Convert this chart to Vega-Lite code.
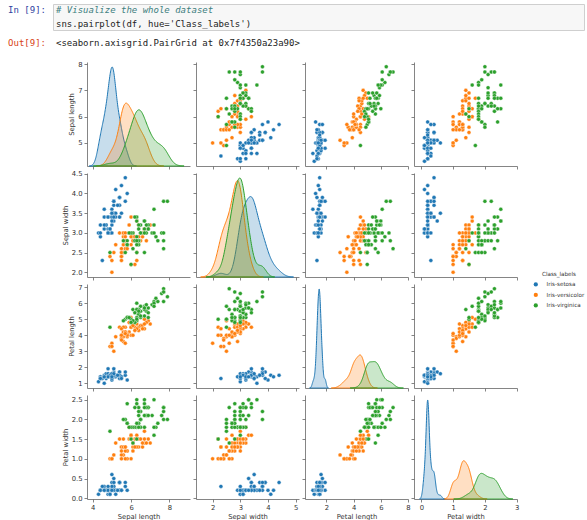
{
  "$schema": "https://vega.github.io/schema/vega-lite/v6.json",
  "padding": {"left": 7, "top": 3, "right": 0, "bottom": 0},
  "bounds": "flush",
  "spacing": 4,
  "config": {
    "view": {"stroke": null},
    "font": "DejaVu Sans",
    "range": {"category": ["#1f77b4", "#ff7f0e", "#2ca02c"]},
    "axis": {
      "grid": false, "domainColor": "#666666", "domainWidth": 0.8, "tickColor": "#666666", "tickWidth": 0.8, "tickSize": 3,
      "labelFont": "DejaVu Sans", "labelFontSize": 6.8, "labelColor": "#333333", "labelPadding": 2, "labelFlush": false, "labelOverlap": false,
      "titleFont": "DejaVu Sans", "titleFontSize": 6.8, "titleFontWeight": "normal", "titleColor": "#333333", "titlePadding": 3
    },
    "axisX": {"titleColor": "#333333", "labelColor": "#333333"},
    "axisY": {"titleColor": "#333333", "labelColor": "#333333"},
    "legend": {
      "orient": "none", "legendX": 480, "legendY": 268, "padding": 0,
      "titleFont": "DejaVu Sans", "titleFontSize": 5.6, "titleFontWeight": "normal", "titleColor": "#333333", "titleAnchor": "middle", "titlePadding": 4,
      "labelFont": "DejaVu Sans", "labelFontSize": 5.6, "labelColor": "#333333", "labelOffset": 8, "rowPadding": 3.5,
      "symbolType": "circle", "symbolSize": 18, "symbolStrokeWidth": 0, "symbolOpacity": 1
    }
  },
  "datasets": {
    "iris": [
      {"sepal_length":5.1,"sepal_width":3.5,"petal_length":1.4,"petal_width":0.2,"Class_labels":"Iris-setosa"},
      {"sepal_length":4.9,"sepal_width":3.0,"petal_length":1.4,"petal_width":0.2,"Class_labels":"Iris-setosa"},
      {"sepal_length":4.7,"sepal_width":3.2,"petal_length":1.3,"petal_width":0.2,"Class_labels":"Iris-setosa"},
      {"sepal_length":4.6,"sepal_width":3.1,"petal_length":1.5,"petal_width":0.2,"Class_labels":"Iris-setosa"},
      {"sepal_length":5.0,"sepal_width":3.6,"petal_length":1.4,"petal_width":0.2,"Class_labels":"Iris-setosa"},
      {"sepal_length":5.4,"sepal_width":3.9,"petal_length":1.7,"petal_width":0.4,"Class_labels":"Iris-setosa"},
      {"sepal_length":4.6,"sepal_width":3.4,"petal_length":1.4,"petal_width":0.3,"Class_labels":"Iris-setosa"},
      {"sepal_length":5.0,"sepal_width":3.4,"petal_length":1.5,"petal_width":0.2,"Class_labels":"Iris-setosa"},
      {"sepal_length":4.4,"sepal_width":2.9,"petal_length":1.4,"petal_width":0.2,"Class_labels":"Iris-setosa"},
      {"sepal_length":4.9,"sepal_width":3.1,"petal_length":1.5,"petal_width":0.1,"Class_labels":"Iris-setosa"},
      {"sepal_length":5.4,"sepal_width":3.7,"petal_length":1.5,"petal_width":0.2,"Class_labels":"Iris-setosa"},
      {"sepal_length":4.8,"sepal_width":3.4,"petal_length":1.6,"petal_width":0.2,"Class_labels":"Iris-setosa"},
      {"sepal_length":4.8,"sepal_width":3.0,"petal_length":1.4,"petal_width":0.1,"Class_labels":"Iris-setosa"},
      {"sepal_length":4.3,"sepal_width":3.0,"petal_length":1.1,"petal_width":0.1,"Class_labels":"Iris-setosa"},
      {"sepal_length":5.8,"sepal_width":4.0,"petal_length":1.2,"petal_width":0.2,"Class_labels":"Iris-setosa"},
      {"sepal_length":5.7,"sepal_width":4.4,"petal_length":1.5,"petal_width":0.4,"Class_labels":"Iris-setosa"},
      {"sepal_length":5.4,"sepal_width":3.9,"petal_length":1.3,"petal_width":0.4,"Class_labels":"Iris-setosa"},
      {"sepal_length":5.1,"sepal_width":3.5,"petal_length":1.4,"petal_width":0.3,"Class_labels":"Iris-setosa"},
      {"sepal_length":5.7,"sepal_width":3.8,"petal_length":1.7,"petal_width":0.3,"Class_labels":"Iris-setosa"},
      {"sepal_length":5.1,"sepal_width":3.8,"petal_length":1.5,"petal_width":0.3,"Class_labels":"Iris-setosa"},
      {"sepal_length":5.4,"sepal_width":3.4,"petal_length":1.7,"petal_width":0.2,"Class_labels":"Iris-setosa"},
      {"sepal_length":5.1,"sepal_width":3.7,"petal_length":1.5,"petal_width":0.4,"Class_labels":"Iris-setosa"},
      {"sepal_length":4.6,"sepal_width":3.6,"petal_length":1.0,"petal_width":0.2,"Class_labels":"Iris-setosa"},
      {"sepal_length":5.1,"sepal_width":3.3,"petal_length":1.7,"petal_width":0.5,"Class_labels":"Iris-setosa"},
      {"sepal_length":4.8,"sepal_width":3.4,"petal_length":1.9,"petal_width":0.2,"Class_labels":"Iris-setosa"},
      {"sepal_length":5.0,"sepal_width":3.0,"petal_length":1.6,"petal_width":0.2,"Class_labels":"Iris-setosa"},
      {"sepal_length":5.0,"sepal_width":3.4,"petal_length":1.6,"petal_width":0.4,"Class_labels":"Iris-setosa"},
      {"sepal_length":5.2,"sepal_width":3.5,"petal_length":1.5,"petal_width":0.2,"Class_labels":"Iris-setosa"},
      {"sepal_length":5.2,"sepal_width":3.4,"petal_length":1.4,"petal_width":0.2,"Class_labels":"Iris-setosa"},
      {"sepal_length":4.7,"sepal_width":3.2,"petal_length":1.6,"petal_width":0.2,"Class_labels":"Iris-setosa"},
      {"sepal_length":4.8,"sepal_width":3.1,"petal_length":1.6,"petal_width":0.2,"Class_labels":"Iris-setosa"},
      {"sepal_length":5.4,"sepal_width":3.4,"petal_length":1.5,"petal_width":0.4,"Class_labels":"Iris-setosa"},
      {"sepal_length":5.2,"sepal_width":4.1,"petal_length":1.5,"petal_width":0.1,"Class_labels":"Iris-setosa"},
      {"sepal_length":5.5,"sepal_width":4.2,"petal_length":1.4,"petal_width":0.2,"Class_labels":"Iris-setosa"},
      {"sepal_length":4.9,"sepal_width":3.1,"petal_length":1.5,"petal_width":0.1,"Class_labels":"Iris-setosa"},
      {"sepal_length":5.0,"sepal_width":3.2,"petal_length":1.2,"petal_width":0.2,"Class_labels":"Iris-setosa"},
      {"sepal_length":5.5,"sepal_width":3.5,"petal_length":1.3,"petal_width":0.2,"Class_labels":"Iris-setosa"},
      {"sepal_length":4.9,"sepal_width":3.1,"petal_length":1.5,"petal_width":0.1,"Class_labels":"Iris-setosa"},
      {"sepal_length":4.4,"sepal_width":3.0,"petal_length":1.3,"petal_width":0.2,"Class_labels":"Iris-setosa"},
      {"sepal_length":5.1,"sepal_width":3.4,"petal_length":1.5,"petal_width":0.2,"Class_labels":"Iris-setosa"},
      {"sepal_length":5.0,"sepal_width":3.5,"petal_length":1.3,"petal_width":0.3,"Class_labels":"Iris-setosa"},
      {"sepal_length":4.5,"sepal_width":2.3,"petal_length":1.3,"petal_width":0.3,"Class_labels":"Iris-setosa"},
      {"sepal_length":4.4,"sepal_width":3.2,"petal_length":1.3,"petal_width":0.2,"Class_labels":"Iris-setosa"},
      {"sepal_length":5.0,"sepal_width":3.5,"petal_length":1.6,"petal_width":0.6,"Class_labels":"Iris-setosa"},
      {"sepal_length":5.1,"sepal_width":3.8,"petal_length":1.9,"petal_width":0.4,"Class_labels":"Iris-setosa"},
      {"sepal_length":4.8,"sepal_width":3.0,"petal_length":1.4,"petal_width":0.3,"Class_labels":"Iris-setosa"},
      {"sepal_length":5.1,"sepal_width":3.8,"petal_length":1.6,"petal_width":0.2,"Class_labels":"Iris-setosa"},
      {"sepal_length":4.6,"sepal_width":3.2,"petal_length":1.4,"petal_width":0.2,"Class_labels":"Iris-setosa"},
      {"sepal_length":5.3,"sepal_width":3.7,"petal_length":1.5,"petal_width":0.2,"Class_labels":"Iris-setosa"},
      {"sepal_length":5.0,"sepal_width":3.3,"petal_length":1.4,"petal_width":0.2,"Class_labels":"Iris-setosa"},
      {"sepal_length":7.0,"sepal_width":3.2,"petal_length":4.7,"petal_width":1.4,"Class_labels":"Iris-versicolor"},
      {"sepal_length":6.4,"sepal_width":3.2,"petal_length":4.5,"petal_width":1.5,"Class_labels":"Iris-versicolor"},
      {"sepal_length":6.9,"sepal_width":3.1,"petal_length":4.9,"petal_width":1.5,"Class_labels":"Iris-versicolor"},
      {"sepal_length":5.5,"sepal_width":2.3,"petal_length":4.0,"petal_width":1.3,"Class_labels":"Iris-versicolor"},
      {"sepal_length":6.5,"sepal_width":2.8,"petal_length":4.6,"petal_width":1.5,"Class_labels":"Iris-versicolor"},
      {"sepal_length":5.7,"sepal_width":2.8,"petal_length":4.5,"petal_width":1.3,"Class_labels":"Iris-versicolor"},
      {"sepal_length":6.3,"sepal_width":3.3,"petal_length":4.7,"petal_width":1.6,"Class_labels":"Iris-versicolor"},
      {"sepal_length":4.9,"sepal_width":2.4,"petal_length":3.3,"petal_width":1.0,"Class_labels":"Iris-versicolor"},
      {"sepal_length":6.6,"sepal_width":2.9,"petal_length":4.6,"petal_width":1.3,"Class_labels":"Iris-versicolor"},
      {"sepal_length":5.2,"sepal_width":2.7,"petal_length":3.9,"petal_width":1.4,"Class_labels":"Iris-versicolor"},
      {"sepal_length":5.0,"sepal_width":2.0,"petal_length":3.5,"petal_width":1.0,"Class_labels":"Iris-versicolor"},
      {"sepal_length":5.9,"sepal_width":3.0,"petal_length":4.2,"petal_width":1.5,"Class_labels":"Iris-versicolor"},
      {"sepal_length":6.0,"sepal_width":2.2,"petal_length":4.0,"petal_width":1.0,"Class_labels":"Iris-versicolor"},
      {"sepal_length":6.1,"sepal_width":2.9,"petal_length":4.7,"petal_width":1.4,"Class_labels":"Iris-versicolor"},
      {"sepal_length":5.6,"sepal_width":2.9,"petal_length":3.6,"petal_width":1.3,"Class_labels":"Iris-versicolor"},
      {"sepal_length":6.7,"sepal_width":3.1,"petal_length":4.4,"petal_width":1.4,"Class_labels":"Iris-versicolor"},
      {"sepal_length":5.6,"sepal_width":3.0,"petal_length":4.5,"petal_width":1.5,"Class_labels":"Iris-versicolor"},
      {"sepal_length":5.8,"sepal_width":2.7,"petal_length":4.1,"petal_width":1.0,"Class_labels":"Iris-versicolor"},
      {"sepal_length":6.2,"sepal_width":2.2,"petal_length":4.5,"petal_width":1.5,"Class_labels":"Iris-versicolor"},
      {"sepal_length":5.6,"sepal_width":2.5,"petal_length":3.9,"petal_width":1.1,"Class_labels":"Iris-versicolor"},
      {"sepal_length":5.9,"sepal_width":3.2,"petal_length":4.8,"petal_width":1.8,"Class_labels":"Iris-versicolor"},
      {"sepal_length":6.1,"sepal_width":2.8,"petal_length":4.0,"petal_width":1.3,"Class_labels":"Iris-versicolor"},
      {"sepal_length":6.3,"sepal_width":2.5,"petal_length":4.9,"petal_width":1.5,"Class_labels":"Iris-versicolor"},
      {"sepal_length":6.1,"sepal_width":2.8,"petal_length":4.7,"petal_width":1.2,"Class_labels":"Iris-versicolor"},
      {"sepal_length":6.4,"sepal_width":2.9,"petal_length":4.3,"petal_width":1.3,"Class_labels":"Iris-versicolor"},
      {"sepal_length":6.6,"sepal_width":3.0,"petal_length":4.4,"petal_width":1.4,"Class_labels":"Iris-versicolor"},
      {"sepal_length":6.8,"sepal_width":2.8,"petal_length":4.8,"petal_width":1.4,"Class_labels":"Iris-versicolor"},
      {"sepal_length":6.7,"sepal_width":3.0,"petal_length":5.0,"petal_width":1.7,"Class_labels":"Iris-versicolor"},
      {"sepal_length":6.0,"sepal_width":2.9,"petal_length":4.5,"petal_width":1.5,"Class_labels":"Iris-versicolor"},
      {"sepal_length":5.7,"sepal_width":2.6,"petal_length":3.5,"petal_width":1.0,"Class_labels":"Iris-versicolor"},
      {"sepal_length":5.5,"sepal_width":2.4,"petal_length":3.8,"petal_width":1.1,"Class_labels":"Iris-versicolor"},
      {"sepal_length":5.5,"sepal_width":2.4,"petal_length":3.7,"petal_width":1.0,"Class_labels":"Iris-versicolor"},
      {"sepal_length":5.8,"sepal_width":2.7,"petal_length":3.9,"petal_width":1.2,"Class_labels":"Iris-versicolor"},
      {"sepal_length":6.0,"sepal_width":2.7,"petal_length":5.1,"petal_width":1.6,"Class_labels":"Iris-versicolor"},
      {"sepal_length":5.4,"sepal_width":3.0,"petal_length":4.5,"petal_width":1.5,"Class_labels":"Iris-versicolor"},
      {"sepal_length":6.0,"sepal_width":3.4,"petal_length":4.5,"petal_width":1.6,"Class_labels":"Iris-versicolor"},
      {"sepal_length":6.7,"sepal_width":3.1,"petal_length":4.7,"petal_width":1.5,"Class_labels":"Iris-versicolor"},
      {"sepal_length":6.3,"sepal_width":2.3,"petal_length":4.4,"petal_width":1.3,"Class_labels":"Iris-versicolor"},
      {"sepal_length":5.6,"sepal_width":3.0,"petal_length":4.1,"petal_width":1.3,"Class_labels":"Iris-versicolor"},
      {"sepal_length":5.5,"sepal_width":2.5,"petal_length":4.0,"petal_width":1.3,"Class_labels":"Iris-versicolor"},
      {"sepal_length":5.5,"sepal_width":2.6,"petal_length":4.4,"petal_width":1.2,"Class_labels":"Iris-versicolor"},
      {"sepal_length":6.1,"sepal_width":3.0,"petal_length":4.6,"petal_width":1.4,"Class_labels":"Iris-versicolor"},
      {"sepal_length":5.8,"sepal_width":2.6,"petal_length":4.0,"petal_width":1.2,"Class_labels":"Iris-versicolor"},
      {"sepal_length":5.0,"sepal_width":2.3,"petal_length":3.3,"petal_width":1.0,"Class_labels":"Iris-versicolor"},
      {"sepal_length":5.6,"sepal_width":2.7,"petal_length":4.2,"petal_width":1.3,"Class_labels":"Iris-versicolor"},
      {"sepal_length":5.7,"sepal_width":3.0,"petal_length":4.2,"petal_width":1.2,"Class_labels":"Iris-versicolor"},
      {"sepal_length":5.7,"sepal_width":2.9,"petal_length":4.2,"petal_width":1.3,"Class_labels":"Iris-versicolor"},
      {"sepal_length":6.2,"sepal_width":2.9,"petal_length":4.3,"petal_width":1.3,"Class_labels":"Iris-versicolor"},
      {"sepal_length":5.1,"sepal_width":2.5,"petal_length":3.0,"petal_width":1.1,"Class_labels":"Iris-versicolor"},
      {"sepal_length":5.7,"sepal_width":2.8,"petal_length":4.1,"petal_width":1.3,"Class_labels":"Iris-versicolor"},
      {"sepal_length":6.3,"sepal_width":3.3,"petal_length":6.0,"petal_width":2.5,"Class_labels":"Iris-virginica"},
      {"sepal_length":5.8,"sepal_width":2.7,"petal_length":5.1,"petal_width":1.9,"Class_labels":"Iris-virginica"},
      {"sepal_length":7.1,"sepal_width":3.0,"petal_length":5.9,"petal_width":2.1,"Class_labels":"Iris-virginica"},
      {"sepal_length":6.3,"sepal_width":2.9,"petal_length":5.6,"petal_width":1.8,"Class_labels":"Iris-virginica"},
      {"sepal_length":6.5,"sepal_width":3.0,"petal_length":5.8,"petal_width":2.2,"Class_labels":"Iris-virginica"},
      {"sepal_length":7.6,"sepal_width":3.0,"petal_length":6.6,"petal_width":2.1,"Class_labels":"Iris-virginica"},
      {"sepal_length":4.9,"sepal_width":2.5,"petal_length":4.5,"petal_width":1.7,"Class_labels":"Iris-virginica"},
      {"sepal_length":7.3,"sepal_width":2.9,"petal_length":6.3,"petal_width":1.8,"Class_labels":"Iris-virginica"},
      {"sepal_length":6.7,"sepal_width":2.5,"petal_length":5.8,"petal_width":1.8,"Class_labels":"Iris-virginica"},
      {"sepal_length":7.2,"sepal_width":3.6,"petal_length":6.1,"petal_width":2.5,"Class_labels":"Iris-virginica"},
      {"sepal_length":6.5,"sepal_width":3.2,"petal_length":5.1,"petal_width":2.0,"Class_labels":"Iris-virginica"},
      {"sepal_length":6.4,"sepal_width":2.7,"petal_length":5.3,"petal_width":1.9,"Class_labels":"Iris-virginica"},
      {"sepal_length":6.8,"sepal_width":3.0,"petal_length":5.5,"petal_width":2.1,"Class_labels":"Iris-virginica"},
      {"sepal_length":5.7,"sepal_width":2.5,"petal_length":5.0,"petal_width":2.0,"Class_labels":"Iris-virginica"},
      {"sepal_length":5.8,"sepal_width":2.8,"petal_length":5.1,"petal_width":2.4,"Class_labels":"Iris-virginica"},
      {"sepal_length":6.4,"sepal_width":3.2,"petal_length":5.3,"petal_width":2.3,"Class_labels":"Iris-virginica"},
      {"sepal_length":6.5,"sepal_width":3.0,"petal_length":5.5,"petal_width":1.8,"Class_labels":"Iris-virginica"},
      {"sepal_length":7.7,"sepal_width":3.8,"petal_length":6.7,"petal_width":2.2,"Class_labels":"Iris-virginica"},
      {"sepal_length":7.7,"sepal_width":2.6,"petal_length":6.9,"petal_width":2.3,"Class_labels":"Iris-virginica"},
      {"sepal_length":6.0,"sepal_width":2.2,"petal_length":5.0,"petal_width":1.5,"Class_labels":"Iris-virginica"},
      {"sepal_length":6.9,"sepal_width":3.2,"petal_length":5.7,"petal_width":2.3,"Class_labels":"Iris-virginica"},
      {"sepal_length":5.6,"sepal_width":2.8,"petal_length":4.9,"petal_width":2.0,"Class_labels":"Iris-virginica"},
      {"sepal_length":7.7,"sepal_width":2.8,"petal_length":6.7,"petal_width":2.0,"Class_labels":"Iris-virginica"},
      {"sepal_length":6.3,"sepal_width":2.7,"petal_length":4.9,"petal_width":1.8,"Class_labels":"Iris-virginica"},
      {"sepal_length":6.7,"sepal_width":3.3,"petal_length":5.7,"petal_width":2.1,"Class_labels":"Iris-virginica"},
      {"sepal_length":7.2,"sepal_width":3.2,"petal_length":6.0,"petal_width":1.8,"Class_labels":"Iris-virginica"},
      {"sepal_length":6.2,"sepal_width":2.8,"petal_length":4.8,"petal_width":1.8,"Class_labels":"Iris-virginica"},
      {"sepal_length":6.1,"sepal_width":3.0,"petal_length":4.9,"petal_width":1.8,"Class_labels":"Iris-virginica"},
      {"sepal_length":6.4,"sepal_width":2.8,"petal_length":5.6,"petal_width":2.1,"Class_labels":"Iris-virginica"},
      {"sepal_length":7.2,"sepal_width":3.0,"petal_length":5.8,"petal_width":1.6,"Class_labels":"Iris-virginica"},
      {"sepal_length":7.4,"sepal_width":2.8,"petal_length":6.1,"petal_width":1.9,"Class_labels":"Iris-virginica"},
      {"sepal_length":7.9,"sepal_width":3.8,"petal_length":6.4,"petal_width":2.0,"Class_labels":"Iris-virginica"},
      {"sepal_length":6.4,"sepal_width":2.8,"petal_length":5.6,"petal_width":2.2,"Class_labels":"Iris-virginica"},
      {"sepal_length":6.3,"sepal_width":2.8,"petal_length":5.1,"petal_width":1.5,"Class_labels":"Iris-virginica"},
      {"sepal_length":6.1,"sepal_width":2.6,"petal_length":5.6,"petal_width":1.4,"Class_labels":"Iris-virginica"},
      {"sepal_length":7.7,"sepal_width":3.0,"petal_length":6.1,"petal_width":2.3,"Class_labels":"Iris-virginica"},
      {"sepal_length":6.3,"sepal_width":3.4,"petal_length":5.6,"petal_width":2.4,"Class_labels":"Iris-virginica"},
      {"sepal_length":6.4,"sepal_width":3.1,"petal_length":5.5,"petal_width":1.8,"Class_labels":"Iris-virginica"},
      {"sepal_length":6.0,"sepal_width":3.0,"petal_length":4.8,"petal_width":1.8,"Class_labels":"Iris-virginica"},
      {"sepal_length":6.9,"sepal_width":3.1,"petal_length":5.4,"petal_width":2.1,"Class_labels":"Iris-virginica"},
      {"sepal_length":6.7,"sepal_width":3.1,"petal_length":5.6,"petal_width":2.4,"Class_labels":"Iris-virginica"},
      {"sepal_length":6.9,"sepal_width":3.1,"petal_length":5.1,"petal_width":2.3,"Class_labels":"Iris-virginica"},
      {"sepal_length":5.8,"sepal_width":2.7,"petal_length":5.1,"petal_width":1.9,"Class_labels":"Iris-virginica"},
      {"sepal_length":6.8,"sepal_width":3.2,"petal_length":5.9,"petal_width":2.3,"Class_labels":"Iris-virginica"},
      {"sepal_length":6.7,"sepal_width":3.3,"petal_length":5.7,"petal_width":2.5,"Class_labels":"Iris-virginica"},
      {"sepal_length":6.7,"sepal_width":3.0,"petal_length":5.2,"petal_width":2.3,"Class_labels":"Iris-virginica"},
      {"sepal_length":6.3,"sepal_width":2.5,"petal_length":5.0,"petal_width":1.9,"Class_labels":"Iris-virginica"},
      {"sepal_length":6.5,"sepal_width":3.0,"petal_length":5.2,"petal_width":2.0,"Class_labels":"Iris-virginica"},
      {"sepal_length":6.2,"sepal_width":3.4,"petal_length":5.4,"petal_width":2.3,"Class_labels":"Iris-virginica"},
      {"sepal_length":5.9,"sepal_width":3.0,"petal_length":5.1,"petal_width":1.8,"Class_labels":"Iris-virginica"}
    ]
  },
  "vconcat": [
    {
      "width": 531, "height": 26,
      "view": {"fill": "#f7f7f7", "stroke": "#cfcfcf", "strokeWidth": 1},
      "data": {"values": [
        {"line": 1, "role": "prompt", "text": "In [9]:"},
        {"line": 1, "role": "comment", "text": "# Visualize the whole dataset"},
        {"line": 2, "role": "code", "text": "sns.pairplot(df, hue='Class_labels')"}
      ]},
      "encoding": {
        "x": {"datum": 0, "type": "quantitative", "scale": {"domain": [0, 1]}, "axis": null},
        "y": {"field": "line", "type": "ordinal", "scale": {"type": "point", "padding": 0.47}, "axis": null},
        "text": {"field": "text"}
      },
      "layer": [
        {"transform": [{"filter": "datum.role === 'prompt'"}], "mark": {"type": "text", "align": "right", "dx": -7, "font": "DejaVu Sans Mono", "fontSize": 9, "color": "#303f9f"}},
        {"transform": [{"filter": "datum.role === 'comment'"}], "mark": {"type": "text", "align": "left", "dx": 3, "font": "DejaVu Sans Mono", "fontSize": 9, "fontStyle": "italic", "color": "#408080"}},
        {"transform": [{"filter": "datum.role === 'code'"}], "mark": {"type": "text", "align": "left", "dx": 3, "font": "DejaVu Sans Mono", "fontSize": 9, "color": "#222222"}}
      ]
    },
    {
      "width": 531, "height": 24,
      "data": {"values": [
        {"role": "prompt", "text": "Out[9]:"},
        {"role": "output", "text": "<seaborn.axisgrid.PairGrid at 0x7f4350a23a90>"}
      ]},
      "encoding": {
        "x": {"datum": 0, "type": "quantitative", "scale": {"domain": [0, 1]}, "axis": null},
        "text": {"field": "text"}
      },
      "layer": [
        {"transform": [{"filter": "datum.role === 'prompt'"}], "mark": {"type": "text", "align": "right", "baseline": "alphabetic", "dx": -7, "font": "DejaVu Sans Mono", "fontSize": 9, "color": "#d84315"}},
        {"transform": [{"filter": "datum.role === 'output'"}], "mark": {"type": "text", "align": "left", "baseline": "alphabetic", "dx": 3, "font": "DejaVu Sans Mono", "fontSize": 9, "color": "#222222"}}
      ]
    },
    {
      "columns": 5,
      "spacing": {"row": 7, "column": 6},
      "bounds": "flush",
      "align": "each",
      "concat": [
        {"width": 28, "height": 104, "data": {"values": []}, "mark": {"type": "point", "opacity": 0}},
        {
          "width": 103, "height": 104, "data": {"name": "iris"},
          "layer": [
            {"mark": {"type": "point", "opacity": 0}, "encoding": {
              "x": {"field": "sepal_length", "type": "quantitative", "scale": {"domain": [3.7, 9.08], "nice": false, "zero": false}, "axis": {"values": [4, 6, 8], "format": "d", "labels": false, "title": null}},
              "y": {"field": "sepal_length", "type": "quantitative", "scale": {"domain": [4.12, 8.08], "nice": false, "zero": false}, "axis": {"values": [5, 6, 7, 8], "format": "d", "title": "Sepal length", "titleColor": "#333333"}}}},
            {"layer": [
              {"transform": [{"filter": {"field": "Class_labels", "equal": "Iris-setosa"}}, {"density": "sepal_length", "groupby": ["Class_labels"], "bandwidth": 0.161, "extent": [3.82, 6.28], "steps": 200}],
               "mark": {"type": "area", "fillOpacity": 0.25, "stroke": "#1f77b4", "strokeWidth": 1},
               "encoding": {"x": {"field": "value", "type": "quantitative", "scale": {"domain": [3.7, 9.08], "nice": false, "zero": false}, "axis": {"values": [4, 6, 8], "format": "d", "labels": false, "title": null}}, "y": {"field": "density", "type": "quantitative", "scale": {"nice": false, "range": [104, 5]}, "axis": null}, "color": {"field": "Class_labels", "type": "nominal"}}},
              {"transform": [{"filter": {"field": "Class_labels", "equal": "Iris-versicolor"}}, {"density": "sepal_length", "groupby": ["Class_labels"], "bandwidth": 0.236, "extent": [4.19, 7.71], "steps": 200}],
               "mark": {"type": "area", "fillOpacity": 0.25, "stroke": "#ff7f0e", "strokeWidth": 1},
               "encoding": {"x": {"field": "value", "type": "quantitative", "scale": {"domain": [3.7, 9.08], "nice": false, "zero": false}, "axis": {"values": [4, 6, 8], "format": "d", "labels": false, "title": null}}, "y": {"field": "density", "type": "quantitative", "scale": {"nice": false, "range": [104, 5]}, "axis": null}, "color": {"field": "Class_labels", "type": "nominal"}}},
              {"transform": [{"filter": {"field": "Class_labels", "equal": "Iris-virginica"}}, {"density": "sepal_length", "groupby": ["Class_labels"], "bandwidth": 0.291, "extent": [4.03, 8.77], "steps": 200}],
               "mark": {"type": "area", "fillOpacity": 0.25, "stroke": "#2ca02c", "strokeWidth": 1},
               "encoding": {"x": {"field": "value", "type": "quantitative", "scale": {"domain": [3.7, 9.08], "nice": false, "zero": false}, "axis": {"values": [4, 6, 8], "format": "d", "labels": false, "title": null}}, "y": {"field": "density", "type": "quantitative", "scale": {"nice": false, "range": [104, 5]}, "axis": null}, "color": {"field": "Class_labels", "type": "nominal"}}}
            ]}
          ],
          "resolve": {"scale": {"y": "independent"}, "axis": {"y": "independent"}}
        },
        {
          "width": 103, "height": 104, "data": {"name": "iris"},
          "mark": {"type": "point", "filled": true, "size": 16, "opacity": 1, "stroke": "#ffffff", "strokeWidth": 0.4},
          "encoding": {
            "x": {"field": "sepal_width", "type": "quantitative", "scale": {"domain": [1.4, 5.12], "nice": false, "zero": false}, "axis": {"values": [2, 3, 4, 5], "format": "d", "labels": false, "title": null}},
            "y": {"field": "sepal_length", "type": "quantitative", "scale": {"domain": [4.12, 8.08], "nice": false, "zero": false}, "axis": {"values": [5, 6, 7, 8], "format": "d", "labels": false, "title": null}},
            "color": {"field": "Class_labels", "type": "nominal"}
          }
        },
        {
          "width": 103, "height": 104, "data": {"name": "iris"},
          "mark": {"type": "point", "filled": true, "size": 16, "opacity": 1, "stroke": "#ffffff", "strokeWidth": 0.4},
          "encoding": {
            "x": {"field": "petal_length", "type": "quantitative", "scale": {"domain": [0.42, 8.0], "nice": false, "zero": false}, "axis": {"values": [2, 4, 6, 8], "format": "d", "labels": false, "title": null}},
            "y": {"field": "sepal_length", "type": "quantitative", "scale": {"domain": [4.12, 8.08], "nice": false, "zero": false}, "axis": {"values": [5, 6, 7, 8], "format": "d", "labels": false, "title": null}},
            "color": {"field": "Class_labels", "type": "nominal"}
          }
        },
        {
          "width": 103, "height": 104, "data": {"name": "iris"},
          "mark": {"type": "point", "filled": true, "size": 16, "opacity": 1, "stroke": "#ffffff", "strokeWidth": 0.4},
          "encoding": {
            "x": {"field": "petal_width", "type": "quantitative", "scale": {"domain": [-0.23, 3.01], "nice": false, "zero": false}, "axis": {"values": [0, 1, 2, 3], "format": "d", "labels": false, "title": null}},
            "y": {"field": "sepal_length", "type": "quantitative", "scale": {"domain": [4.12, 8.08], "nice": false, "zero": false}, "axis": {"values": [5, 6, 7, 8], "format": "d", "labels": false, "title": null}},
            "color": {"field": "Class_labels", "type": "nominal"}
          }
        },
        {"width": 28, "height": 104, "data": {"values": []}, "mark": {"type": "point", "opacity": 0}},
        {
          "width": 103, "height": 104, "data": {"name": "iris"},
          "mark": {"type": "point", "filled": true, "size": 16, "opacity": 1, "stroke": "#ffffff", "strokeWidth": 0.4},
          "encoding": {
            "x": {"field": "sepal_length", "type": "quantitative", "scale": {"domain": [3.7, 9.08], "nice": false, "zero": false}, "axis": {"values": [4, 6, 8], "format": "d", "labels": false, "title": null}},
            "y": {"field": "sepal_width", "type": "quantitative", "scale": {"domain": [1.88, 4.52], "nice": false, "zero": false}, "axis": {"values": [2, 2.5, 3, 3.5, 4, 4.5], "format": ".1f", "title": "Sepal width", "titleColor": "#333333"}},
            "color": {"field": "Class_labels", "type": "nominal"}
          }
        },
        {
          "width": 103, "height": 104, "data": {"name": "iris"},
          "layer": [
            {"mark": {"type": "point", "opacity": 0}, "encoding": {
              "x": {"field": "sepal_width", "type": "quantitative", "scale": {"domain": [1.4, 5.12], "nice": false, "zero": false}, "axis": {"values": [2, 3, 4, 5], "format": "d", "labels": false, "title": null}},
              "y": {"field": "sepal_width", "type": "quantitative", "scale": {"domain": [1.88, 4.52], "nice": false, "zero": false}, "axis": {"values": [2, 2.5, 3, 3.5, 4, 4.5], "format": ".1f", "labels": false, "title": null}}}},
            {"layer": [
              {"transform": [{"filter": {"field": "Class_labels", "equal": "Iris-setosa"}}, {"density": "sepal_width", "groupby": ["Class_labels"], "bandwidth": 0.174, "extent": [1.78, 4.92], "steps": 200}],
               "mark": {"type": "area", "fillOpacity": 0.25, "stroke": "#1f77b4", "strokeWidth": 1},
               "encoding": {"x": {"field": "value", "type": "quantitative", "scale": {"domain": [1.4, 5.12], "nice": false, "zero": false}, "axis": {"values": [2, 3, 4, 5], "format": "d", "labels": false, "title": null}}, "y": {"field": "density", "type": "quantitative", "scale": {"nice": false, "range": [104, 5]}, "axis": null}, "color": {"field": "Class_labels", "type": "nominal"}}},
              {"transform": [{"filter": {"field": "Class_labels", "equal": "Iris-versicolor"}}, {"density": "sepal_width", "groupby": ["Class_labels"], "bandwidth": 0.1435, "extent": [1.57, 3.83], "steps": 200}],
               "mark": {"type": "area", "fillOpacity": 0.25, "stroke": "#ff7f0e", "strokeWidth": 1},
               "encoding": {"x": {"field": "value", "type": "quantitative", "scale": {"domain": [1.4, 5.12], "nice": false, "zero": false}, "axis": {"values": [2, 3, 4, 5], "format": "d", "labels": false, "title": null}}, "y": {"field": "density", "type": "quantitative", "scale": {"nice": false, "range": [104, 5]}, "axis": null}, "color": {"field": "Class_labels", "type": "nominal"}}},
              {"transform": [{"filter": {"field": "Class_labels", "equal": "Iris-virginica"}}, {"density": "sepal_width", "groupby": ["Class_labels"], "bandwidth": 0.1475, "extent": [1.76, 4.24], "steps": 200}],
               "mark": {"type": "area", "fillOpacity": 0.25, "stroke": "#2ca02c", "strokeWidth": 1},
               "encoding": {"x": {"field": "value", "type": "quantitative", "scale": {"domain": [1.4, 5.12], "nice": false, "zero": false}, "axis": {"values": [2, 3, 4, 5], "format": "d", "labels": false, "title": null}}, "y": {"field": "density", "type": "quantitative", "scale": {"nice": false, "range": [104, 5]}, "axis": null}, "color": {"field": "Class_labels", "type": "nominal"}}}
            ]}
          ],
          "resolve": {"scale": {"y": "independent"}, "axis": {"y": "independent"}}
        },
        {
          "width": 103, "height": 104, "data": {"name": "iris"},
          "mark": {"type": "point", "filled": true, "size": 16, "opacity": 1, "stroke": "#ffffff", "strokeWidth": 0.4},
          "encoding": {
            "x": {"field": "petal_length", "type": "quantitative", "scale": {"domain": [0.42, 8.0], "nice": false, "zero": false}, "axis": {"values": [2, 4, 6, 8], "format": "d", "labels": false, "title": null}},
            "y": {"field": "sepal_width", "type": "quantitative", "scale": {"domain": [1.88, 4.52], "nice": false, "zero": false}, "axis": {"values": [2, 2.5, 3, 3.5, 4, 4.5], "format": ".1f", "labels": false, "title": null}},
            "color": {"field": "Class_labels", "type": "nominal"}
          }
        },
        {
          "width": 103, "height": 104, "data": {"name": "iris"},
          "mark": {"type": "point", "filled": true, "size": 16, "opacity": 1, "stroke": "#ffffff", "strokeWidth": 0.4},
          "encoding": {
            "x": {"field": "petal_width", "type": "quantitative", "scale": {"domain": [-0.23, 3.01], "nice": false, "zero": false}, "axis": {"values": [0, 1, 2, 3], "format": "d", "labels": false, "title": null}},
            "y": {"field": "sepal_width", "type": "quantitative", "scale": {"domain": [1.88, 4.52], "nice": false, "zero": false}, "axis": {"values": [2, 2.5, 3, 3.5, 4, 4.5], "format": ".1f", "labels": false, "title": null}},
            "color": {"field": "Class_labels", "type": "nominal"}
          }
        },
        {"width": 28, "height": 104, "data": {"values": []}, "mark": {"type": "point", "opacity": 0}},
        {
          "width": 103, "height": 104, "data": {"name": "iris"},
          "mark": {"type": "point", "filled": true, "size": 16, "opacity": 1, "stroke": "#ffffff", "strokeWidth": 0.4},
          "encoding": {
            "x": {"field": "sepal_length", "type": "quantitative", "scale": {"domain": [3.7, 9.08], "nice": false, "zero": false}, "axis": {"values": [4, 6, 8], "format": "d", "labels": false, "title": null}},
            "y": {"field": "petal_length", "type": "quantitative", "scale": {"domain": [0.705, 7.195], "nice": false, "zero": false}, "axis": {"values": [1, 2, 3, 4, 5, 6, 7], "format": "d", "title": "Petal length", "titleColor": "#333333"}},
            "color": {"field": "Class_labels", "type": "nominal"}
          }
        },
        {
          "width": 103, "height": 104, "data": {"name": "iris"},
          "mark": {"type": "point", "filled": true, "size": 16, "opacity": 1, "stroke": "#ffffff", "strokeWidth": 0.4},
          "encoding": {
            "x": {"field": "sepal_width", "type": "quantitative", "scale": {"domain": [1.4, 5.12], "nice": false, "zero": false}, "axis": {"values": [2, 3, 4, 5], "format": "d", "labels": false, "title": null}},
            "y": {"field": "petal_length", "type": "quantitative", "scale": {"domain": [0.705, 7.195], "nice": false, "zero": false}, "axis": {"values": [1, 2, 3, 4, 5, 6, 7], "format": "d", "labels": false, "title": null}},
            "color": {"field": "Class_labels", "type": "nominal"}
          }
        },
        {
          "width": 103, "height": 104, "data": {"name": "iris"},
          "layer": [
            {"mark": {"type": "point", "opacity": 0}, "encoding": {
              "x": {"field": "petal_length", "type": "quantitative", "scale": {"domain": [0.42, 8.0], "nice": false, "zero": false}, "axis": {"values": [2, 4, 6, 8], "format": "d", "labels": false, "title": null}},
              "y": {"field": "petal_length", "type": "quantitative", "scale": {"domain": [0.705, 7.195], "nice": false, "zero": false}, "axis": {"values": [1, 2, 3, 4, 5, 6, 7], "format": "d", "labels": false, "title": null}}}},
            {"layer": [
              {"transform": [{"filter": {"field": "Class_labels", "equal": "Iris-setosa"}}, {"density": "petal_length", "groupby": ["Class_labels"], "bandwidth": 0.0794, "extent": [0.76, 2.14], "steps": 200}],
               "mark": {"type": "area", "fillOpacity": 0.25, "stroke": "#1f77b4", "strokeWidth": 1},
               "encoding": {"x": {"field": "value", "type": "quantitative", "scale": {"domain": [0.42, 8.0], "nice": false, "zero": false}, "axis": {"values": [2, 4, 6, 8], "format": "d", "labels": false, "title": null}}, "y": {"field": "density", "type": "quantitative", "scale": {"nice": false, "range": [104, 5]}, "axis": null}, "color": {"field": "Class_labels", "type": "nominal"}}},
              {"transform": [{"filter": {"field": "Class_labels", "equal": "Iris-versicolor"}}, {"density": "petal_length", "groupby": ["Class_labels"], "bandwidth": 0.215, "extent": [2.355, 5.745], "steps": 200}],
               "mark": {"type": "area", "fillOpacity": 0.25, "stroke": "#ff7f0e", "strokeWidth": 1},
               "encoding": {"x": {"field": "value", "type": "quantitative", "scale": {"domain": [0.42, 8.0], "nice": false, "zero": false}, "axis": {"values": [2, 4, 6, 8], "format": "d", "labels": false, "title": null}}, "y": {"field": "density", "type": "quantitative", "scale": {"nice": false, "range": [104, 5]}, "axis": null}, "color": {"field": "Class_labels", "type": "nominal"}}},
              {"transform": [{"filter": {"field": "Class_labels", "equal": "Iris-virginica"}}, {"density": "petal_length", "groupby": ["Class_labels"], "bandwidth": 0.252, "extent": [3.74, 7.66], "steps": 200}],
               "mark": {"type": "area", "fillOpacity": 0.25, "stroke": "#2ca02c", "strokeWidth": 1},
               "encoding": {"x": {"field": "value", "type": "quantitative", "scale": {"domain": [0.42, 8.0], "nice": false, "zero": false}, "axis": {"values": [2, 4, 6, 8], "format": "d", "labels": false, "title": null}}, "y": {"field": "density", "type": "quantitative", "scale": {"nice": false, "range": [104, 5]}, "axis": null}, "color": {"field": "Class_labels", "type": "nominal"}}}
            ]}
          ],
          "resolve": {"scale": {"y": "independent"}, "axis": {"y": "independent"}}
        },
        {
          "width": 103, "height": 104, "data": {"name": "iris"},
          "mark": {"type": "point", "filled": true, "size": 16, "opacity": 1, "stroke": "#ffffff", "strokeWidth": 0.4},
          "encoding": {
            "x": {"field": "petal_width", "type": "quantitative", "scale": {"domain": [-0.23, 3.01], "nice": false, "zero": false}, "axis": {"values": [0, 1, 2, 3], "format": "d", "labels": false, "title": null}},
            "y": {"field": "petal_length", "type": "quantitative", "scale": {"domain": [0.705, 7.195], "nice": false, "zero": false}, "axis": {"values": [1, 2, 3, 4, 5, 6, 7], "format": "d", "labels": false, "title": null}},
            "color": {"field": "Class_labels", "type": "nominal"}
          }
        },
        {"width": 28, "height": 104, "data": {"values": []}, "mark": {"type": "point", "opacity": 0}},
        {
          "width": 103, "height": 104, "data": {"name": "iris"},
          "mark": {"type": "point", "filled": true, "size": 16, "opacity": 1, "stroke": "#ffffff", "strokeWidth": 0.4},
          "encoding": {
            "x": {"field": "sepal_length", "type": "quantitative", "scale": {"domain": [3.7, 9.08], "nice": false, "zero": false}, "axis": {"values": [4, 6, 8], "format": "d", "title": "Sepal length", "titleColor": "#333333"}},
            "y": {"field": "petal_width", "type": "quantitative", "scale": {"domain": [-0.02, 2.62], "nice": false, "zero": false}, "axis": {"values": [0, 0.5, 1, 1.5, 2, 2.5], "format": ".1f", "title": "Petal width", "titleColor": "#333333"}},
            "color": {"field": "Class_labels", "type": "nominal"}
          }
        },
        {
          "width": 103, "height": 104, "data": {"name": "iris"},
          "mark": {"type": "point", "filled": true, "size": 16, "opacity": 1, "stroke": "#ffffff", "strokeWidth": 0.4},
          "encoding": {
            "x": {"field": "sepal_width", "type": "quantitative", "scale": {"domain": [1.4, 5.12], "nice": false, "zero": false}, "axis": {"values": [2, 3, 4, 5], "format": "d", "title": "Sepal width", "titleColor": "#333333"}},
            "y": {"field": "petal_width", "type": "quantitative", "scale": {"domain": [-0.02, 2.62], "nice": false, "zero": false}, "axis": {"values": [0, 0.5, 1, 1.5, 2, 2.5], "format": ".1f", "labels": false, "title": null}},
            "color": {"field": "Class_labels", "type": "nominal"}
          }
        },
        {
          "width": 103, "height": 104, "data": {"name": "iris"},
          "mark": {"type": "point", "filled": true, "size": 16, "opacity": 1, "stroke": "#ffffff", "strokeWidth": 0.4},
          "encoding": {
            "x": {"field": "petal_length", "type": "quantitative", "scale": {"domain": [0.42, 8.0], "nice": false, "zero": false}, "axis": {"values": [2, 4, 6, 8], "format": "d", "title": "Petal length", "titleColor": "#333333"}},
            "y": {"field": "petal_width", "type": "quantitative", "scale": {"domain": [-0.02, 2.62], "nice": false, "zero": false}, "axis": {"values": [0, 0.5, 1, 1.5, 2, 2.5], "format": ".1f", "labels": false, "title": null}},
            "color": {"field": "Class_labels", "type": "nominal"}
          }
        },
        {
          "width": 103, "height": 104, "data": {"name": "iris"},
          "layer": [
            {"mark": {"type": "point", "opacity": 0}, "encoding": {
              "x": {"field": "petal_width", "type": "quantitative", "scale": {"domain": [-0.23, 3.01], "nice": false, "zero": false}, "axis": {"values": [0, 1, 2, 3], "format": "d", "title": "Petal width", "titleColor": "#333333"}},
              "y": {"field": "petal_width", "type": "quantitative", "scale": {"domain": [-0.02, 2.62], "nice": false, "zero": false}, "axis": {"values": [0, 0.5, 1, 1.5, 2, 2.5], "format": ".1f", "labels": false, "title": null}}}},
            {"layer": [
              {"transform": [{"filter": {"field": "Class_labels", "equal": "Iris-setosa"}}, {"density": "petal_width", "groupby": ["Class_labels"], "bandwidth": 0.049, "extent": [-0.05, 0.75], "steps": 200}],
               "mark": {"type": "area", "fillOpacity": 0.25, "stroke": "#1f77b4", "strokeWidth": 1},
               "encoding": {"x": {"field": "value", "type": "quantitative", "scale": {"domain": [-0.23, 3.01], "nice": false, "zero": false}, "axis": {"values": [0, 1, 2, 3], "format": "d", "title": "Petal width", "titleColor": "#333333"}}, "y": {"field": "density", "type": "quantitative", "scale": {"nice": false, "range": [104, 5]}, "axis": null}, "color": {"field": "Class_labels", "type": "nominal"}}},
              {"transform": [{"filter": {"field": "Class_labels", "equal": "Iris-versicolor"}}, {"density": "petal_width", "groupby": ["Class_labels"], "bandwidth": 0.0905, "extent": [0.73, 2.07], "steps": 200}],
               "mark": {"type": "area", "fillOpacity": 0.25, "stroke": "#ff7f0e", "strokeWidth": 1},
               "encoding": {"x": {"field": "value", "type": "quantitative", "scale": {"domain": [-0.23, 3.01], "nice": false, "zero": false}, "axis": {"values": [0, 1, 2, 3], "format": "d", "title": "Petal width", "titleColor": "#333333"}}, "y": {"field": "density", "type": "quantitative", "scale": {"nice": false, "range": [104, 5]}, "axis": null}, "color": {"field": "Class_labels", "type": "nominal"}}},
              {"transform": [{"filter": {"field": "Class_labels", "equal": "Iris-virginica"}}, {"density": "petal_width", "groupby": ["Class_labels"], "bandwidth": 0.1256, "extent": [1.02, 2.88], "steps": 200}],
               "mark": {"type": "area", "fillOpacity": 0.25, "stroke": "#2ca02c", "strokeWidth": 1},
               "encoding": {"x": {"field": "value", "type": "quantitative", "scale": {"domain": [-0.23, 3.01], "nice": false, "zero": false}, "axis": {"values": [0, 1, 2, 3], "format": "d", "title": "Petal width", "titleColor": "#333333"}}, "y": {"field": "density", "type": "quantitative", "scale": {"nice": false, "range": [104, 5]}, "axis": null}, "color": {"field": "Class_labels", "type": "nominal"}}}
            ]}
          ],
          "resolve": {"scale": {"y": "independent"}, "axis": {"y": "independent"}}
        }
      ]
    }
  ]
}
